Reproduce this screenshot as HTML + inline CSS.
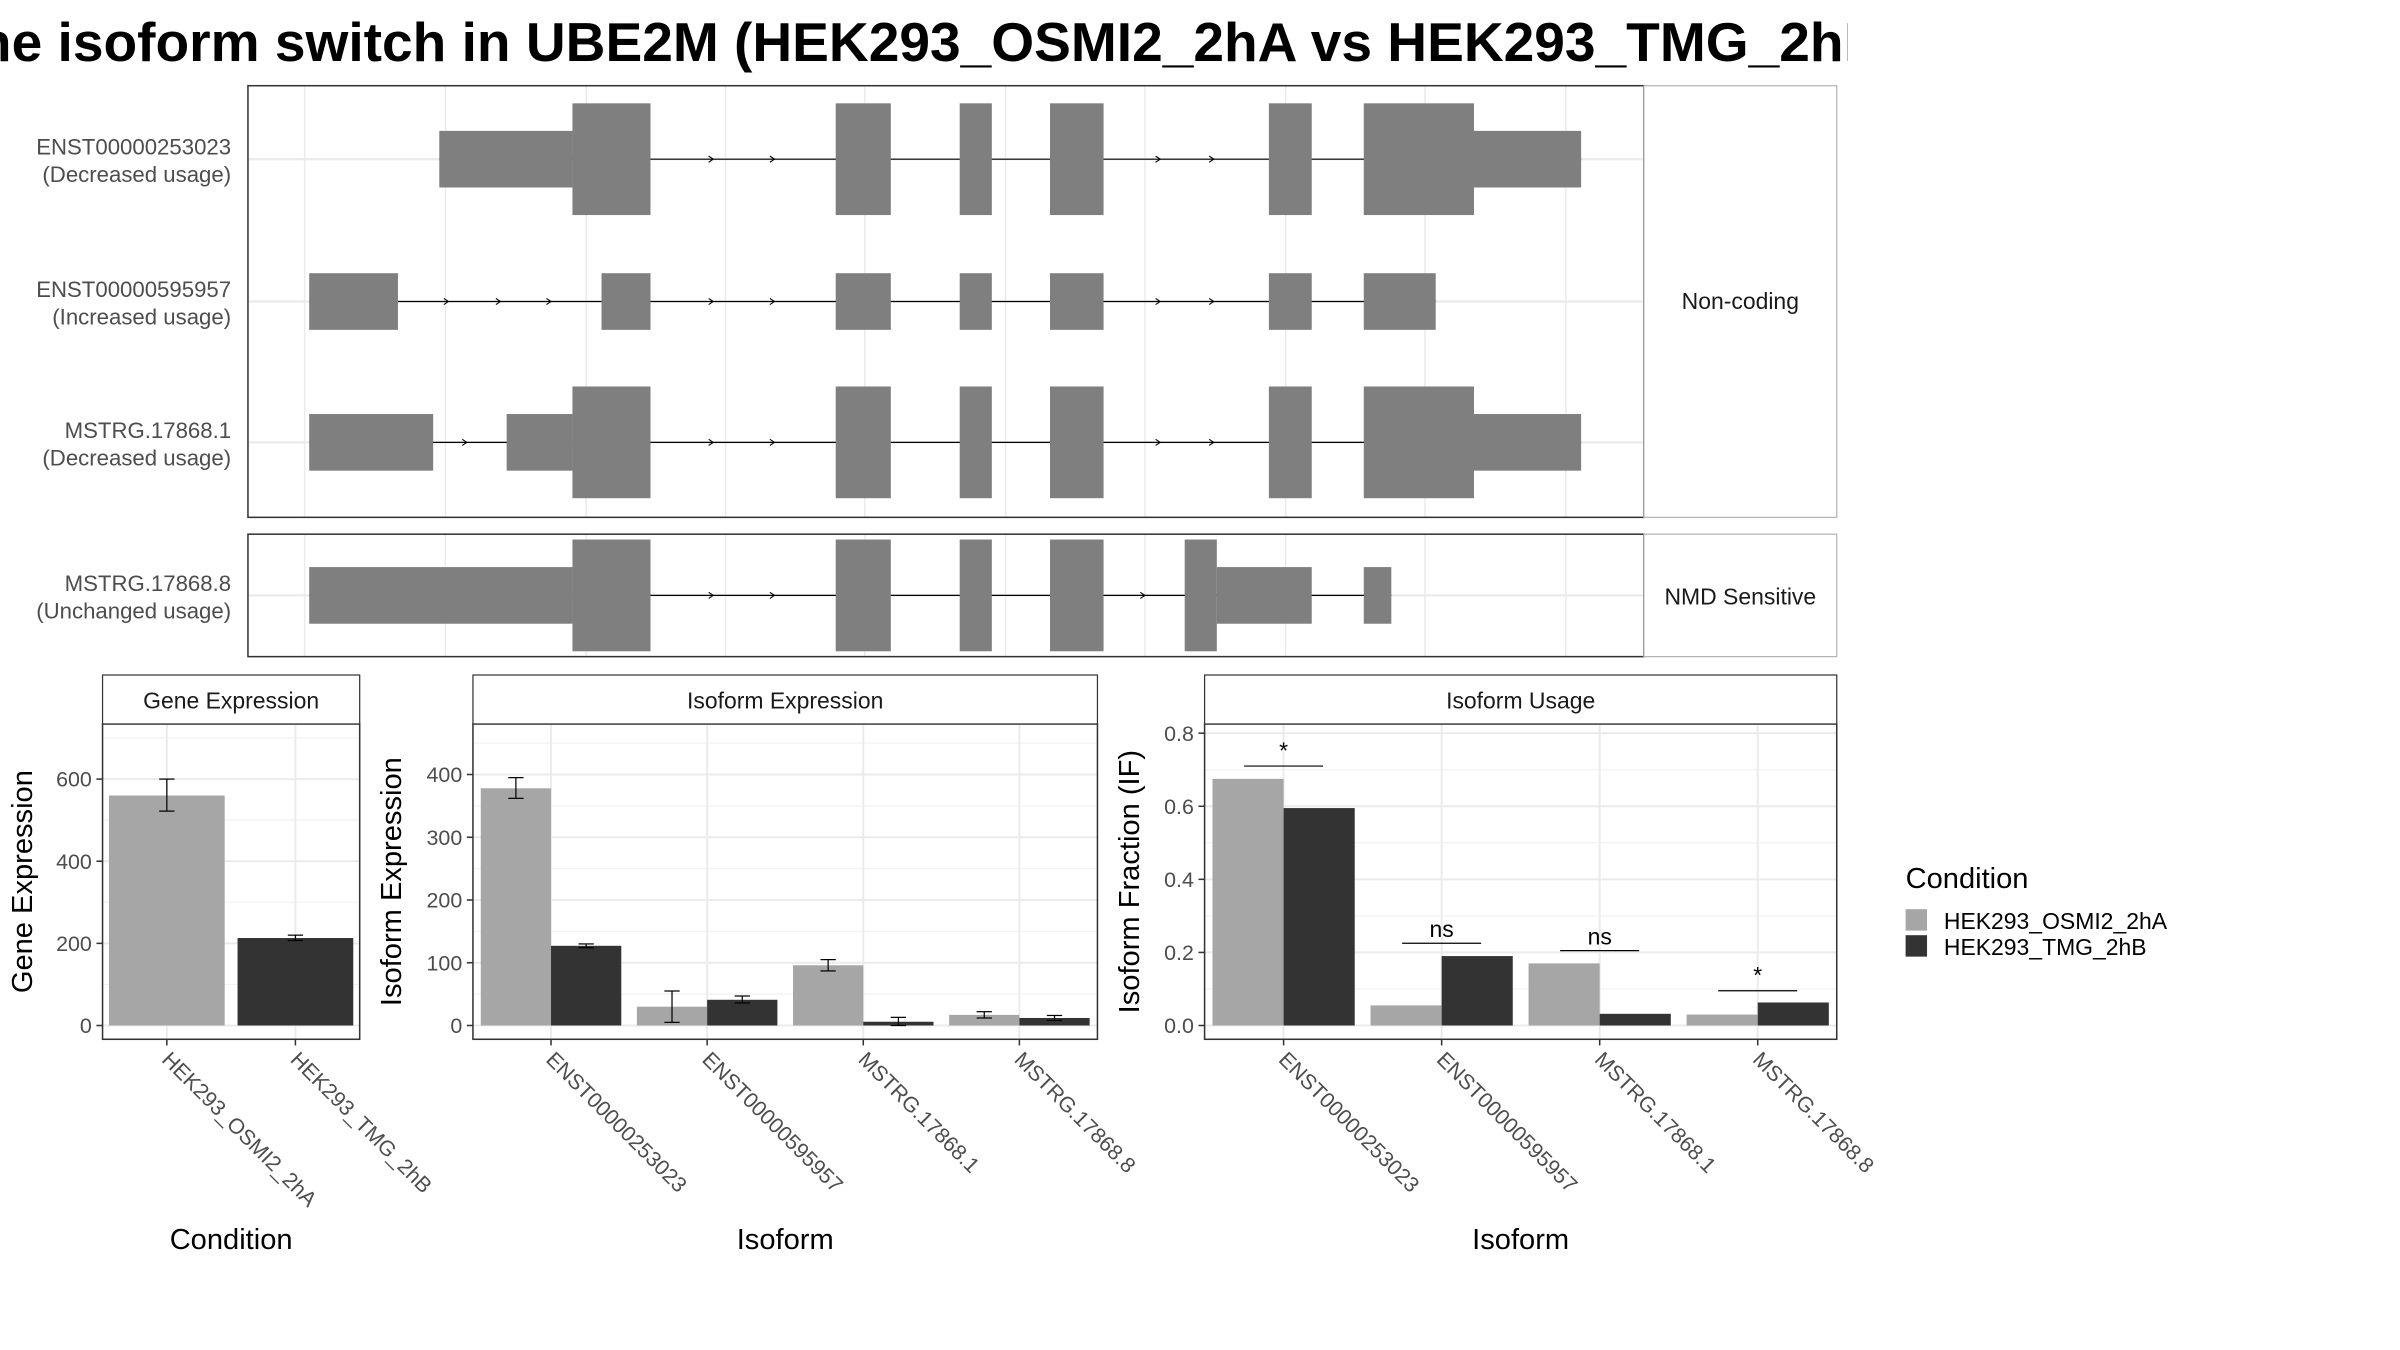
<!DOCTYPE html>
<html><head><meta charset="utf-8"><style>
html,body{margin:0;padding:0;background:#fff}
svg{display:block;font-family:"Liberation Sans",sans-serif}
</style></head><body>
<svg id="fig" width="2400" height="1350" viewBox="0 0 1568 882" preserveAspectRatio="none" xmlns="http://www.w3.org/2000/svg">
<defs><clipPath id="tclip"><rect x="0" y="0" width="1207" height="60"/></clipPath></defs>
<text clip-path="url(#tclip)" x="603" y="40" text-anchor="middle" font-size="36" font-weight="bold" fill="#000">The isoform switch in UBE2M (HEK293_OSMI2_2hA vs HEK293_TMG_2hB)</text>
<g id="gene-model"></g>
<g id="bars"></g>
<g>
<text x="1245" y="580" font-size="19" fill="#000">Condition</text>
<rect x="1245" y="594" width="14" height="14" fill="#a6a6a6"/>
<text x="1270" y="607" font-size="15" fill="#000">HEK293_OSMI2_2hA</text>
<rect x="1245" y="611" width="14" height="14" fill="#333333"/>
<text x="1270" y="624" font-size="15" fill="#000">HEK293_TMG_2hB</text>
</g>
</svg>
<script>
const NS="http://www.w3.org/2000/svg";
function mk(tag,attrs,parent,txt){const e=document.createElementNS(NS,tag);for(const k in attrs)e.setAttribute(k,attrs[k]);if(txt!==undefined)e.textContent=txt;parent.appendChild(e);return e;}

// ---------- Transcript structure data ----------
const txNames=["ENST00000253023","ENST00000595957","MSTRG.17868.1","MSTRG.17868.8"];
const txUsage=["(Decreased usage)","(Increased usage)","(Decreased usage)","(Unchanged usage)"];
const txExons=[
 [[287,374,0],[374,425,1],[546,582,1],[627,648,1],[686,721,1],[829,857,1],[891,963,1],[963,1033,0]],
 [[202,260,0],[393,425,0],[546,582,0],[627,648,0],[686,721,0],[829,857,0],[891,938,0]],
 [[202,283,0],[331,374,0],[374,425,1],[546,582,1],[627,648,1],[686,721,1],[829,857,1],[891,963,1],[963,1033,0]],
 [[202,374,0],[374,425,1],[546,582,1],[627,648,1],[686,721,1],[774,795,1],[795,857,0],[891,909,0]]
];
const txArrows=[[466,506,758,793],[293,327,360,466,506,758,793],[305,466,506,758,793],[466,506,748]];
const txY=[104,197,289,389];
const gm=document.getElementById('gene-model');
mk('rect',{x:162,y:56,width:912,height:282,fill:'#fff',stroke:'none'},gm);
mk('rect',{x:162,y:349,width:912,height:80,fill:'#fff',stroke:'none'},gm);
[199,291,383,474,565,657,748,840,931,1023].forEach(x=>{
 mk('line',{x1:x,x2:x,y1:56,y2:338,stroke:'#ebebeb','stroke-width':1},gm);
 mk('line',{x1:x,x2:x,y1:349,y2:429,stroke:'#ebebeb','stroke-width':1},gm);
});
txY.forEach(y=>mk('line',{x1:162,x2:1074,y1:y,y2:y,stroke:'#ebebeb','stroke-width':1.5},gm));
txNames.forEach((n,i)=>{
 const y=txY[i];const ex=txExons[i];
 const first=ex[0][0],last=ex[ex.length-1][1];
 const g=mk('g',{},gm);
 
 
 mk('line',{x1:first,x2:last,y1:y,y2:y,stroke:'#000','stroke-width':0.8},g);
 txArrows[i].forEach(ax=>mk('path',{d:`M${ax-3},${y-2} L${ax},${y} L${ax-3},${y+2}`,fill:'none',stroke:'#000','stroke-width':0.7},g));
 ex.forEach(e=>{const h=e[2]?73:37;
  const r=mk('rect',{x:e[0],y:y-h/2,width:e[1]-e[0],height:h,fill:'#7f7f7f'},g);
  
  
 });
 const t1=mk('text',{x:151,y:y-3,'text-anchor':'end','font-size':14.5,fill:'#4d4d4d'},gm,n);
 
 
 const t2=mk('text',{x:151,y:y+15,'text-anchor':'end','font-size':14.5,fill:'#4d4d4d'},gm,txUsage[i]);
 
 
});
mk('rect',{x:162,y:56,width:912,height:282,fill:'none',stroke:'#333','stroke-width':1},gm);
mk('rect',{x:162,y:349,width:912,height:80,fill:'none',stroke:'#333','stroke-width':1},gm);
mk('rect',{x:1074,y:56,width:126,height:282,fill:'#fff',stroke:'#b3b3b3','stroke-width':0.8},gm);
mk('rect',{x:1074,y:349,width:126,height:80,fill:'#fff',stroke:'#b3b3b3','stroke-width':0.8},gm);
const s1=mk('text',{x:1137,y:202,'text-anchor':'middle','font-size':15,fill:'#1a1a1a'},gm,'Non-coding');


const s2=mk('text',{x:1137,y:395,'text-anchor':'middle','font-size':15,fill:'#1a1a1a'},gm,'NMD Sensitive');



// ---------- Bar chart data ----------
const geneCats=["HEK293_OSMI2_2hA","HEK293_TMG_2hB"];
const geneVals=[560,213];
const geneErrLo=[522,207];
const geneErrHi=[600,220];
const geneTicks=[0,200,400,600];

const isoCats=["ENST00000253023","ENST00000595957","MSTRG.17868.1","MSTRG.17868.8"];
const isoExpA=[378,30,96,17];
const isoExpB=[127,41,6,12];
const isoExpALo=[362,5,87,12];
const isoExpAHi=[395,55,105,22];
const isoExpBLo=[124,36,0,8];
const isoExpBHi=[130,47,13,16];
const isoExpTicks=[0,100,200,300,400];

const ifA=[0.675,0.055,0.17,0.03];
const ifB=[0.595,0.19,0.032,0.063];
const ifSig=["*","ns","ns","*"];
const ifSigY=[0.71,0.225,0.205,0.095];
const ifTicks=[0,0.2,0.4,0.6,0.8];

const LIGHT='#a6a6a6',DARK='#333333';
const bp=document.getElementById('bars');

function panel(o){
 const g=mk('g',{},bp);
 
 
 const {x0,x1,top=473,bot=679,yZero=670,yMaxPix,yMaxVal}=o;
 const yS=v=>yZero-(v/yMaxVal)*(yZero-yMaxPix);
 mk('rect',{x:x0,y:top,width:x1-x0,height:bot-top,fill:'#fff'},g);
 const step=o.ticks[1]-o.ticks[0];
 for(let v=step/2;yS(v)>top;v+=step) mk('line',{x1:x0,x2:x1,y1:yS(v),y2:yS(v),stroke:'#f2f2f2','stroke-width':0.8},g);
 o.ticks.forEach(v=>{
  mk('line',{x1:x0,x2:x1,y1:yS(v),y2:yS(v),stroke:'#ebebeb','stroke-width':1.3},g);
  mk('line',{x1:x0-4,x2:x0,y1:yS(v),y2:yS(v),stroke:'#333','stroke-width':1},g);
  const t=mk('text',{x:x0-7,y:yS(v)+5,'text-anchor':'end','font-size':14,fill:'#4d4d4d'},g,o.fmt?o.fmt(v):String(v));
  
  
 });
 const n=o.cats.length;const bw=(x1-x0)/n;
 const cx=i=>x0+bw*(i+0.5);
 o.cats.forEach((c,i)=>mk('line',{x1:cx(i),x2:cx(i),y1:top,y2:bot,stroke:'#ebebeb','stroke-width':1.3},g));
 o.series.forEach((s,si)=>{
  s.vals.forEach((v,i)=>{
   const w=bw*0.9/o.series.length;
   const bx=cx(i)-bw*0.45+w*si;
   const r=mk('rect',{x:bx,y:yS(v),width:w,height:yS(0)-yS(v),fill:s.color||(i===0?LIGHT:DARK)},g);
   
   
   if(s.lo){const ex=bx+w/2;
    mk('line',{x1:ex,x2:ex,y1:yS(s.lo[i]),y2:yS(s.hi[i]),stroke:'#000','stroke-width':0.8},g);
    [s.lo[i],s.hi[i]].forEach(e=>mk('line',{x1:ex-5,x2:ex+5,y1:yS(e),y2:yS(e),stroke:'#000','stroke-width':0.8},g));
   }
  });
 });
 if(o.sig){o.sig.forEach((s,i)=>{
  const y=yS(o.sigY[i]);
  mk('line',{x1:cx(i)-bw*0.25,x2:cx(i)+bw*0.25,y1:y,y2:y,stroke:'#000','stroke-width':0.8},g);
  const t=mk('text',{x:cx(i),y:y-(s==='*'?5:4),'text-anchor':'middle','font-size':15,fill:'#000'},g,s);
  
  
 });}
 mk('rect',{x:x0,y:top,width:x1-x0,height:bot-top,fill:'none',stroke:'#333','stroke-width':1},g);
 mk('rect',{x:x0,y:441,width:x1-x0,height:32,fill:'#fff',stroke:'#333','stroke-width':0.8},g);
 const st=mk('text',{x:(x0+x1)/2,y:463,'text-anchor':'middle','font-size':15,fill:'#1a1a1a'},g,o.title);
 
 
 o.cats.forEach((c,i)=>{
  mk('line',{x1:cx(i),x2:cx(i),y1:bot,y2:bot+4,stroke:'#333','stroke-width':1},g);
  const t=mk('text',{x:cx(i)-4,y:bot+14,'font-size':14,fill:'#4d4d4d',transform:`rotate(45 ${cx(i)-4} ${bot+14})`},g,c);
  
  
 });
 const yt=mk('text',{x:o.ytX,y:576,'text-anchor':'middle','font-size':19,fill:'#000',transform:`rotate(-90 ${o.ytX} 576)`},g,o.ytitle);
 
 
 const xt=mk('text',{x:(x0+x1)/2,y:816,'text-anchor':'middle','font-size':19,fill:'#000'},g,o.xtitle);
 
 
}
panel({name:'gene-expression-panel',x0:67,x1:235,yMaxPix:509,yMaxVal:600,ticks:geneTicks,cats:geneCats,
 series:[{key:'gene',vals:geneVals,color:null,lo:geneErrLo,hi:geneErrHi}],title:'Gene Expression',ytitle:'Gene Expression',ytX:21,xtitle:'Condition'});
panel({name:'isoform-expression-panel',x0:309,x1:717,yMaxPix:506,yMaxVal:400,ticks:isoExpTicks,cats:isoCats,
 series:[{key:'osmi2',vals:isoExpA,color:LIGHT,lo:isoExpALo,hi:isoExpAHi},{key:'tmg',vals:isoExpB,color:DARK,lo:isoExpBLo,hi:isoExpBHi}],
 title:'Isoform Expression',ytitle:'Isoform Expression',ytX:262,xtitle:'Isoform'});
panel({name:'isoform-usage-panel',x0:787,x1:1200,yMaxPix:479,yMaxVal:0.8,ticks:ifTicks,cats:isoCats,fmt:v=>v.toFixed(1),
 series:[{key:'osmi2',vals:ifA,color:LIGHT},{key:'tmg',vals:ifB,color:DARK}],sig:ifSig,sigY:ifSigY,
 title:'Isoform Usage',ytitle:'Isoform Fraction (IF)',ytX:744,xtitle:'Isoform'});
</script>
</body></html>
